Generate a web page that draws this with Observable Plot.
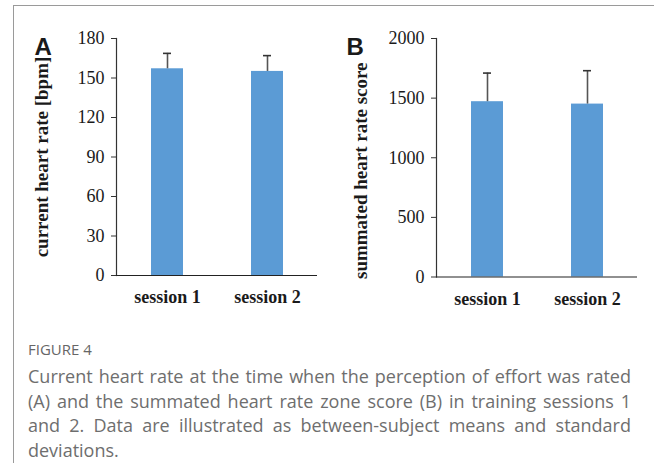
<!DOCTYPE html>
<html>
<head>
<meta charset="utf-8">
<script src="https://cdn.jsdelivr.net/npm/d3@7"></script>
<script src="https://cdn.jsdelivr.net/npm/@observablehq/plot@0.6"></script>
<style>
  html, body { margin: 0; padding: 0; background: #fff; }
  #root { position: relative; width: 654px; height: 463px; overflow: hidden; background: #fff; }
  #border { position: absolute; left: 13px; top: 5px; width: 660px; height: 470px;
            border-top: 1.5px solid #9a9a9a; border-left: 1.5px solid #9a9a9a; }
  .panel { position: absolute; top: 0; }
  #figlabel { position: absolute; left: 28px; top: 339px; font-family: "Open Sans", sans-serif;
              font-size: 15px; color: #666; }
  #caption { position: absolute; left: 28px; top: 364px; width: 603px; font-family: "Open Sans", sans-serif;
             font-size: 18px; line-height: 24.6px; color: #6e6e6e; text-align: justify; }
</style>
</head>
<body>
<div id="root">
  <div id="border"></div>
  <div id="panelA" class="panel" style="left:0px"></div>
  <div id="panelB" class="panel" style="left:330px"></div>
  <div id="figlabel">FIGURE 4</div>
  <div id="caption">Current heart rate at the time when the perception of effort was rated (A) and the summated heart rate zone score (B) in training sessions 1 and 2. Data are illustrated as between-subject means and standard deviations.</div>
</div>
<script>
const sessions = ["session 1", "session 2"];
const hrMean = [157, 155];
const hrSD = [11.7, 12];
const scoreMean = [1470, 1450];
const scoreSD = [240, 280];
const yTicksA = [0, 30, 60, 90, 120, 150, 180];
const yTicksB = [0, 500, 1000, 1500, 2000];

function panel(o) {
  const data = sessions.map((s, i) => ({session: s, mean: o.means[i], sd: o.sds[i]}));
  return Plot.plot({
    width: o.width, height: 320,
    marginLeft: o.marginLeft, marginRight: o.marginRight, marginTop: 38, marginBottom: o.marginBottom,
    style: {fontFamily: "'Liberation Serif', 'Times New Roman', serif", fontSize: "18px", color: "#1a1a1a", background: "transparent", overflow: "visible"},
    x: {domain: sessions, paddingInner: 0.68, paddingOuter: 0.34, axis: null},
    y: {domain: [0, o.ticks[o.ticks.length - 1]], axis: null},
    marks: [
      Plot.barY(data, {x: "session", y: "mean", fill: "#5B9BD5"}),
      Plot.ruleX(data, {x: "session", y1: "mean", y2: d => d.mean + d.sd, stroke: "#555", strokeWidth: 1.6}),
      Plot.tickY(data, {x: "session", y: d => d.mean + d.sd, stroke: "#333", strokeWidth: 1.6, insetLeft: 12, insetRight: 12}),
      Plot.frame({anchor: "left", stroke: "#333", strokeWidth: 1.2}),
      Plot.ruleY([0], {stroke: "#222", strokeWidth: 1.2}),
      Plot.axisY({ticks: o.ticks, tickSize: 5, tickPadding: 7, label: null, tickFormat: d => String(d), stroke: "#333", fontSize: 18}),
      Plot.axisX({tickSize: 0, tickPadding: 15, label: null, fontWeight: "bold", fontSize: 18}),
      Plot.text([o.ylabel], {frameAnchor: "left", textAnchor: "middle", lineAnchor: "middle", rotate: -90,
        dx: o.labelDx, dy: o.labelDy, fontWeight: "bold", fontSize: 19}),
      Plot.text([o.letter], {frameAnchor: "top-left", textAnchor: "start", lineAnchor: "bottom", dx: o.letterDx, dy: 16,
        fontFamily: "'Liberation Sans', Arial, sans-serif", fontWeight: "bold", fontSize: 24})
    ]
  });
}

document.getElementById("panelA").appendChild(panel({
  means: hrMean, sds: hrSD, ticks: yTicksA, ylabel: "current heart rate [bpm]", letter: "A",
  width: 330, marginLeft: 116, marginRight: 13, marginBottom: 45, labelDx: -75, labelDy: 0, letterDx: -82
}));
document.getElementById("panelB").appendChild(panel({
  means: scoreMean, sds: scoreSD, ticks: yTicksB, ylabel: "summated heart rate score", letter: "B",
  width: 324, marginLeft: 106, marginRight: 17, marginBottom: 43.5, labelDx: -76, labelDy: 13, letterDx: -90
}));
</script>
</body>
</html>
